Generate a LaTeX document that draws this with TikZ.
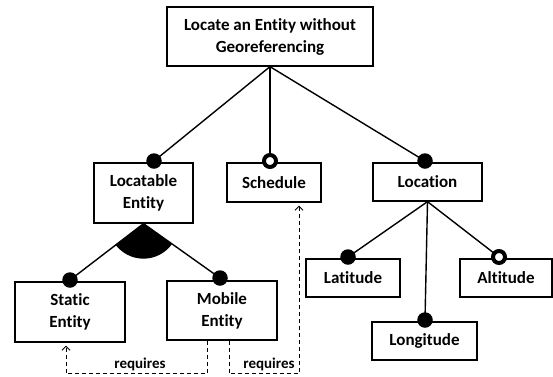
\documentclass[tikz,border=0pt]{standalone}
\usepackage{fontspec}
\setmainfont{Carlito}[RawFeature={-liga;-clig;-calt;-dlig}]
\usetikzlibrary{arrows.meta,calc}
\begin{document}
\begin{tikzpicture}[x=1pt,y=-1pt,
 box/.style={draw,line width=1.3pt,align=center,font=\bfseries\fontsize{17}{22}\selectfont,inner sep=0pt},
 edge/.style={line width=1.4pt},
 mand/.style={circle,fill=black,minimum size=15.5pt,inner sep=0pt},
 opt/.style={circle,fill=white,draw=black,line width=4pt,minimum size=12pt,inner sep=0pt},
 req/.style={line width=0.9pt,dash pattern=on 4pt off 3pt,-{Straight Barb[length=4pt,width=8pt,line width=0.9pt]}},
 lbl/.style={font=\bfseries\fontsize{15}{18}\selectfont,inner sep=0pt}]
\useasboundingbox (0,0) rectangle (553,376);
% boxes
\node[box,minimum width=206pt,minimum height=59pt] (root) at (270,36.5) {Locate an Entity without\\Georeferencing};
\node[box,minimum width=99pt,minimum height=60pt] (L) at (143.5,193) {Locatable\\Entity};
\node[box,minimum width=94pt,minimum height=39pt] (Sch) at (274,182.5) {Schedule};
\node[box,minimum width=109pt,minimum height=38pt] (Loc) at (427.5,182) {Location};
\node[box,minimum width=94pt,minimum height=38pt] (Lat) at (353,278) {Latitude};
\node[box,minimum width=92pt,minimum height=38pt] (Alt) at (506,278) {Altitude};
\node[box,minimum width=105pt,minimum height=38pt] (Lon) at (424.5,341) {Longitude};
\node[box,minimum width=110pt,minimum height=60pt] (S) at (70,312) {Static\\Entity};
\node[box,minimum width=110pt,minimum height=59pt] (M) at (222,310.5) {Mobile\\Entity};
% dot positions
\coordinate (cL) at (154,161);
\coordinate (cSch) at (270,161);
\coordinate (cLoc) at (425,161);
\coordinate (cLat) at (348,257);
\coordinate (cAlt) at (499,257);
\coordinate (cLon) at (425,320);
\coordinate (cS) at (70,280);
\coordinate (cM) at (220,278);
% edges
\draw[edge] (root.south) -- (cL);
\draw[edge] (root.south) -- (cSch);
\draw[edge] (root.south) -- (cLoc);
\draw[edge] (Loc.south) -- (cLat);
\draw[edge] (Loc.south) -- (cAlt);
\draw[edge] (Loc.south) -- (cLon);
\draw[edge] (L.south) -- (cS);
\draw[edge] (L.south) -- (cM);
% alternative group sector
\begin{scope}
\clip (L.south) -- (cS) -- (cM) -- cycle;
\fill (L.south) circle[radius=35pt];
\end{scope}
% dots
\node[mand] (dL) at (cL) {};
\node[opt] (dSch) at (cSch) {};
\node[mand] (dLoc) at (cLoc) {};
\node[mand] (dLat) at (cLat) {};
\node[opt] (dAlt) at (cAlt) {};
\node[mand] (dLon) at (cLon) {};
\node[mand] (dS) at (cS) {};
\node[mand] (dM) at (cM) {};
% requires
\draw[req] ([xshift=-15pt]M.south) -- ++(0,33) -| ([xshift=-4pt,yshift=-3pt]S.south);
\draw[req] ([xshift=7pt]M.south) -- ++(0,33) -| ([xshift=25pt,yshift=-3pt]Sch.south);
\node[lbl] (r1) at (140,364) {requires};
\node[lbl] (r2) at (269,364) {requires};
\end{tikzpicture}
\end{document}
